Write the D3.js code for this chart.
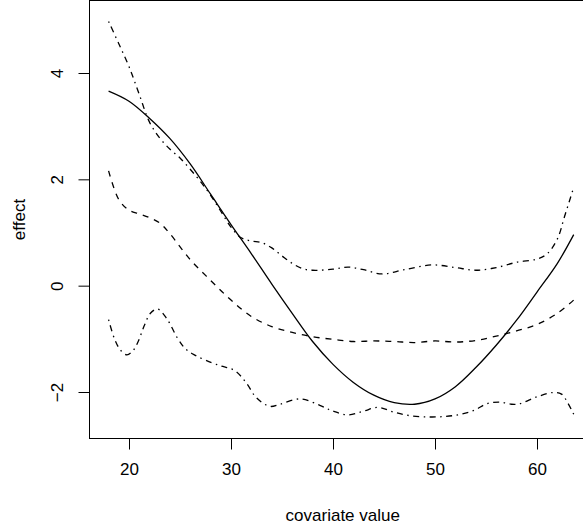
<!DOCTYPE html>
<html>
<head>
<meta charset="utf-8">
<script src="https://cdn.jsdelivr.net/npm/d3@7"></script>
<style>
  body { margin: 0; background: #fff; }
  text { font-family: "Liberation Sans", Arial, sans-serif; fill: #000; }
</style>
</head>
<body>
<script>
// fitted effect (solid)
var fitX = [18, 20, 22, 24, 26, 28, 30, 32, 34, 36, 38, 40, 42, 44, 46, 48, 50, 52, 54, 56, 58, 60, 62, 63.6];
var fitY = [3.66, 3.47, 3.15, 2.77, 2.29, 1.72, 1.15, 0.6, 0.03, -0.52, -1.05, -1.48, -1.82, -2.06, -2.2, -2.23, -2.13, -1.9, -1.54, -1.12, -0.65, -0.12, 0.42, 0.96];

// dashed curve
var midX = [18, 19, 20, 21, 22, 23, 24, 26, 28, 30, 32, 34, 36, 38, 40, 42, 44, 46, 48, 50, 52, 54, 56, 58, 60, 62, 63.6];
var midY = [2.16, 1.62, 1.42, 1.35, 1.28, 1.18, 0.98, 0.49, 0.1, -0.27, -0.58, -0.77, -0.88, -0.96, -1.01, -1.05, -1.04, -1.05, -1.07, -1.04, -1.06, -1.03, -0.95, -0.85, -0.73, -0.52, -0.27];

// upper dot-dash band
var upX = [18, 19, 20, 21, 22, 23, 24, 25, 26, 27, 28, 29, 30, 31, 32, 33, 34, 35, 36, 37, 38, 40, 41.5, 43, 44.8, 47, 49.7, 52, 54, 56, 58, 60, 61, 62, 62.7, 63.6];
var upY = [4.97, 4.55, 4.12, 3.6, 3.08, 2.78, 2.57, 2.4, 2.19, 1.96, 1.7, 1.4, 1.1, 0.9, 0.84, 0.81, 0.71, 0.56, 0.42, 0.32, 0.29, 0.31, 0.35, 0.3, 0.22, 0.3, 0.39, 0.34, 0.29, 0.34, 0.44, 0.5, 0.6, 0.88, 1.3, 1.85];

// lower dot-dash band
var loX = [18, 18.6, 19.2, 19.8, 20.4, 20.9, 21.5, 22.1, 22.8, 23.7, 24.8, 25.6, 26.5, 28.1, 29.2, 30.4, 31.5, 32.5, 33.8, 34.8, 36.8, 38.7, 40, 41.5, 43, 44.4, 46, 47.7, 49.5, 51, 52.5, 53.9, 55.1, 56.4, 57.5, 58.3, 60, 61.6, 62.4, 63, 63.6];
var loY = [-0.64, -1.01, -1.22, -1.3, -1.22, -1.05, -0.75, -0.52, -0.44, -0.62, -1.0, -1.2, -1.31, -1.45, -1.52, -1.6, -1.83, -2.11, -2.27, -2.23, -2.13, -2.25, -2.36, -2.43, -2.36, -2.29, -2.38, -2.45, -2.47, -2.46, -2.42, -2.34, -2.22, -2.19, -2.23, -2.22, -2.09, -2.01, -2.04, -2.2, -2.42];

var xTicks = [20, 30, 40, 50, 60],
    yTicks = [-2, 0, 2, 4];

var width = 583,
    height = 527,
    plotLeft = 89.5,
    plotTop = 0.5,
    plotBottom = 438.5;

var svg = d3.select("body").append("svg")
    .attr("width", width)
    .attr("height", height);

var x = d3.scaleLinear().domain([20, 60]).range([129, 537]);
var y = d3.scaleLinear().domain([-2, 4]).range([392, 73]);

// plot box (right side runs past the window)
svg.append("rect")
    .attr("x", plotLeft).attr("y", plotTop)
    .attr("width", 620 - plotLeft).attr("height", plotBottom - plotTop)
    .attr("fill", "none").attr("stroke", "#000").attr("stroke-width", 1);

var xAxis = d3.axisBottom(x).tickValues(xTicks).tickSize(11).tickPadding(13);
var yAxis = d3.axisLeft(y).tickValues(yTicks).tickSize(11).tickPadding(6)
    .tickFormat(function(d) { return d < 0 ? "\u2212" + Math.abs(d) : d; });

var gx = svg.append("g").attr("transform", "translate(0," + plotBottom + ")").call(xAxis);
gx.select(".domain").remove();
gx.selectAll("text").attr("font-size", 17).attr("font-family", "Liberation Sans, Arial, sans-serif");

var gy = svg.append("g").attr("transform", "translate(" + plotLeft + ",0)").call(yAxis);
gy.select(".domain").remove();
gy.selectAll("text")
    .attr("font-size", 17)
    .attr("font-family", "Liberation Sans, Arial, sans-serif")
    .attr("text-anchor", "middle")
    .attr("dy", null)
    .attr("dominant-baseline", "central")
    .attr("x", null)
    .attr("transform", function() { return "translate(" + (57 - plotLeft) + ",0) rotate(-90)"; });

svg.append("text")
    .attr("x", (plotLeft + 596) / 2).attr("y", 515)
    .attr("text-anchor", "middle").attr("dominant-baseline", "central")
    .attr("font-size", 17)
    .text("covariate value");

svg.append("text")
    .attr("transform", "translate(19," + (plotBottom + plotTop) / 2 + ") rotate(-90)")
    .attr("text-anchor", "middle").attr("dominant-baseline", "central")
    .attr("font-size", 17)
    .text("effect");

function curve(xs, ys) {
  return d3.line()
      .x(function(d, i) { return x(xs[i]); })
      .y(function(d, i) { return y(ys[i]); })
      .curve(d3.curveCatmullRom.alpha(0.5))(xs);
}

var series = [
  {xs: fitX, ys: fitY, dash: null},
  {xs: midX, ys: midY, dash: "6,6"},
  {xs: upX, ys: upY, dash: "1.5,4.5,6,4.5"},
  {xs: loX, ys: loY, dash: "1.5,4.5,6,4.5"}
];

svg.selectAll(".curve")
    .data(series)
  .enter().append("path")
    .attr("class", "curve")
    .attr("d", function(d) { return curve(d.xs, d.ys); })
    .attr("fill", "none")
    .attr("stroke", "#000")
    .attr("stroke-width", 1.3)
    .attr("stroke-dasharray", function(d) { return d.dash; });
</script>
</body>
</html>
